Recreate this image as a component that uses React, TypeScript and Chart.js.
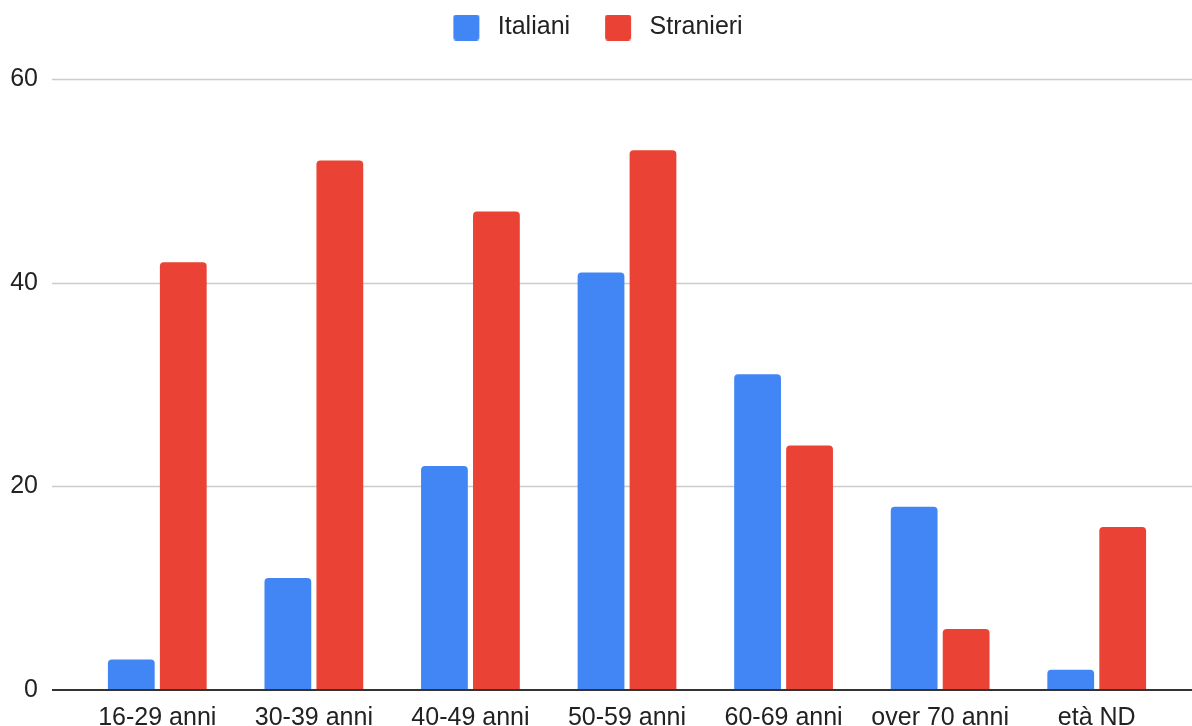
import React, { useEffect, useRef } from "react";
import { Chart, registerables } from "chart.js";

Chart.register(...registerables);

const categories = ["16-29 anni", "30-39 anni", "40-49 anni", "50-59 anni", "60-69 anni", "over 70 anni", "età ND"];
const italiani = [3, 11, 22, 41, 31, 18, 2];
const stranieri = [42, 52, 47, 53, 24, 6, 16];
const yTicks = [0, 20, 40, 60];
const seriesColors = ["#4285F4", "#EA4335"];

const FONT = "Arial, 'Liberation Sans', sans-serif";
const TEXT = "#222222";
const FS = 25;

function makeSwatch(color: string) {
  const c = document.createElement("canvas");
  c.width = 36;
  c.height = 26;
  const ctx = c.getContext("2d")!;
  ctx.fillStyle = color;
  ctx.beginPath();
  if ((ctx as any).roundRect) (ctx as any).roundRect(4, 0, 26, 26, 3);
  else ctx.rect(4, 0, 26, 26);
  ctx.fill();
  return c;
}

const gridPlugin = {
  id: "fullGrid",
  beforeUpdate(chart: any) {
    const lg = chart.legend;
    if (lg && !lg.__patched) {
      const orig = lg.fit;
      lg.fit = function () {
        orig.call(this);
        this.height = 79;
      };
      lg.__patched = true;
    }
  },
  afterLayout(chart: any) {
    const lg = chart.legend;
    if (lg) {
      lg.top = -16;
      lg.left = 0;
      lg.right = chart.width;
      lg.width = chart.width;
    }
  },
  beforeDatasetsDraw(chart: any) {
    const y = chart.scales.y;
    const ctx = chart.ctx;
    ctx.save();
    ctx.strokeStyle = "#cccccc";
    ctx.lineWidth = 1.5;
    yTicks.forEach((v) => {
      if (v === 0) return;
      const py = Math.round(y.getPixelForValue(v)) + 0.5;
      ctx.beginPath();
      ctx.moveTo(52, py);
      ctx.lineTo(chart.width, py);
      ctx.stroke();
    });
    ctx.restore();
  },
  afterDatasetsDraw(chart: any) {
    const y = chart.scales.y;
    const ctx = chart.ctx;
    ctx.save();
    ctx.strokeStyle = "#333333";
    ctx.lineWidth = 2;
    const py = y.getPixelForValue(0);
    ctx.beginPath();
    ctx.moveTo(52, py);
    ctx.lineTo(chart.width, py);
    ctx.stroke();
    ctx.restore();
  },
};

export default function App() {
  const ref = useRef<HTMLCanvasElement>(null);
  useEffect(() => {
    if (!ref.current) return;
    const swatches = seriesColors.map(makeSwatch);
    const barStyle = {
      borderWidth: 0,
      borderRadius: { topLeft: 4, topRight: 4, bottomLeft: 0, bottomRight: 0 },
      borderSkipped: "bottom",
      categoryPercentage: 0.664,
      barPercentage: 0.9,
    };
    const chart = new Chart(ref.current, {
      type: "bar",
      data: {
        labels: categories,
        datasets: [
          { label: "Italiani", data: italiani, backgroundColor: seriesColors[0], ...barStyle },
          { label: "Stranieri", data: stranieri, backgroundColor: seriesColors[1], ...barStyle },
        ],
      },
      options: {
        animation: false,
        responsive: false,
        maintainAspectRatio: false,
        devicePixelRatio: 1,
        layout: { padding: { left: 0, right: 17, top: 0, bottom: 0 } },
        plugins: {
          tooltip: { enabled: false },
          legend: {
            position: "top",
            labels: {
              usePointStyle: true,
              pointStyleWidth: 36,
              boxWidth: 26,
              boxHeight: 26,
              padding: 31,
              color: TEXT,
              font: { family: FONT, size: FS },
              generateLabels(ch: any) {
                const items = (Chart as any).defaults.plugins.legend.labels.generateLabels(ch);
                return items.map((it: any, i: number) => ({ ...it, pointStyle: swatches[i % swatches.length] }));
              },
            },
          },
        },
        scales: {
          x: {
            offset: true,
            grid: { display: false },
            border: { display: false },
            ticks: {
              color: TEXT,
              font: { family: FONT, size: FS },
              padding: 5,
              maxRotation: 0,
              autoSkip: false,
            },
            afterFit(scale: any) {
              scale.height = 36;
            },
          },
          y: {
            min: 0,
            max: 60,
            grid: { display: false },
            border: { display: false },
            ticks: {
              stepSize: 20,
              color: TEXT,
              font: { family: FONT, size: FS },
              padding: 33,
            },
            afterFit(scale: any) {
              scale.width = 79;
              scale.paddingTop = 14;
              scale.paddingBottom = 14;
            },
          },
        },
      },
      plugins: [gridPlugin],
    } as any);
    return () => chart.destroy();
  }, []);
  return (
    <div style={{ position: "absolute", left: 0, top: 0, width: 1192, height: 726, background: "#fff", overflow: "hidden" }}>
      <canvas ref={ref} width={1192} height={726} style={{ display: "block", width: 1192, height: 726 }} />
    </div>
  );
}
